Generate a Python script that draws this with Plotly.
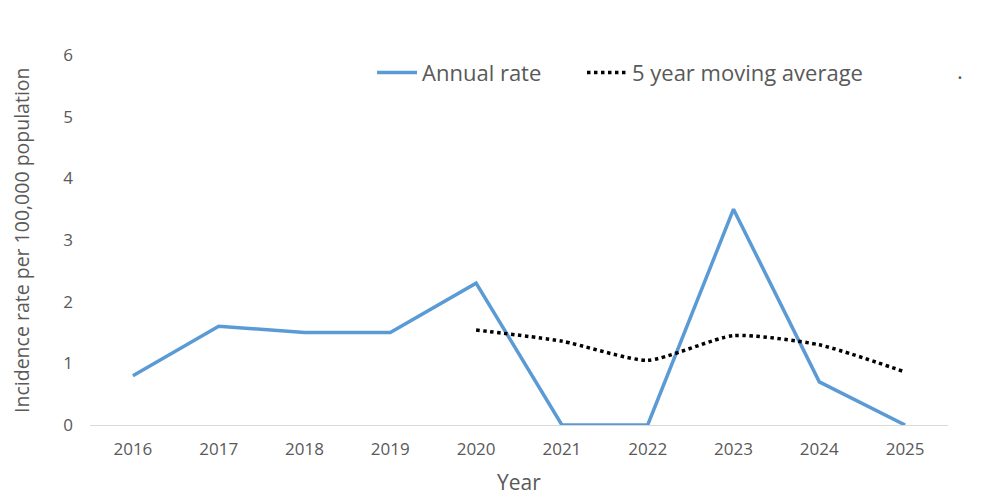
import plotly.graph_objects as go

years = ["2016", "2017", "2018", "2019", "2020", "2021", "2022", "2023", "2024", "2025"]
annual_rate = [0.8, 1.6, 1.5, 1.5, 2.3, 0, 0, 3.5, 0.7, 0]
ma_years = ["2020", "2021", "2022", "2023", "2024", "2025"]
moving_avg = [1.54, 1.36, 1.05, 1.45, 1.3, 0.86]

FONT = "Open Sans"
GREY = "#595959"

fig = go.Figure()

# --- Annual rate ---
fig.add_trace(go.Scatter(
    x=years, y=annual_rate, mode="lines", name="Annual rate",
    line=dict(color="#5b9bd5", width=3.5), legend="legend"
))

# --- 5 year moving average ---
fig.add_trace(go.Scatter(
    x=ma_years, y=moving_avg, mode="lines", name="5 year moving average",
    line=dict(color="black", width=3.5, dash="dot", shape="spline", smoothing=0.6),
    legend="legend2"
))

# --- axis titles and the stray legend dot ---
fig.add_annotation(
    x=-0.0805, y=0.5, xref="paper", yref="paper", xanchor="center", yanchor="middle",
    textangle=-90, showarrow=False,
    text="Incidence rate per 100,000 population", font=dict(family=FONT, size=19.5, color=GREY)
)
fig.add_annotation(
    x=0.5, y=-0.154, xref="paper", yref="paper", xanchor="center", yanchor="middle",
    showarrow=False, text="Year", font=dict(family=FONT, size=21, color=GREY)
)
fig.add_annotation(
    x=1.014, y=0.96, xref="paper", yref="paper", xanchor="center", yanchor="middle",
    showarrow=False, text=".", font=dict(family=FONT, size=22, color=GREY)
)

legend_style = dict(
    orientation="h", y=0.952, xanchor="left", yanchor="middle", itemwidth=40,
    font=dict(family=FONT, size=22, color=GREY), bgcolor="rgba(0,0,0,0)",
)

# page body has an 8px margin, so the margins are shifted to compensate
fig.update_layout(
    width=1000, height=499,
    margin=dict(l=82, r=60, t=47, b=82),
    plot_bgcolor="white", paper_bgcolor="white",
    font=dict(family=FONT, color=GREY),
    showlegend=True,
    legend=dict(x=0.3287, **legend_style),
    legend2=dict(x=0.5734, **legend_style),
    xaxis=dict(
        type="category", range=[-0.5, 9.5], automargin=False,
        showgrid=False, showline=True, linecolor="#d9d9d9", linewidth=1,
        ticks="", tickfont=dict(size=17, color=GREY), ticklabelstandoff=9,
    ),
    yaxis=dict(
        range=[0, 6], dtick=1, showgrid=False, zeroline=False, showline=False,
        automargin=False, tickfont=dict(size=17, color=GREY), ticklabelstandoff=16,
    ),
)

fig.write_html("out.html")
